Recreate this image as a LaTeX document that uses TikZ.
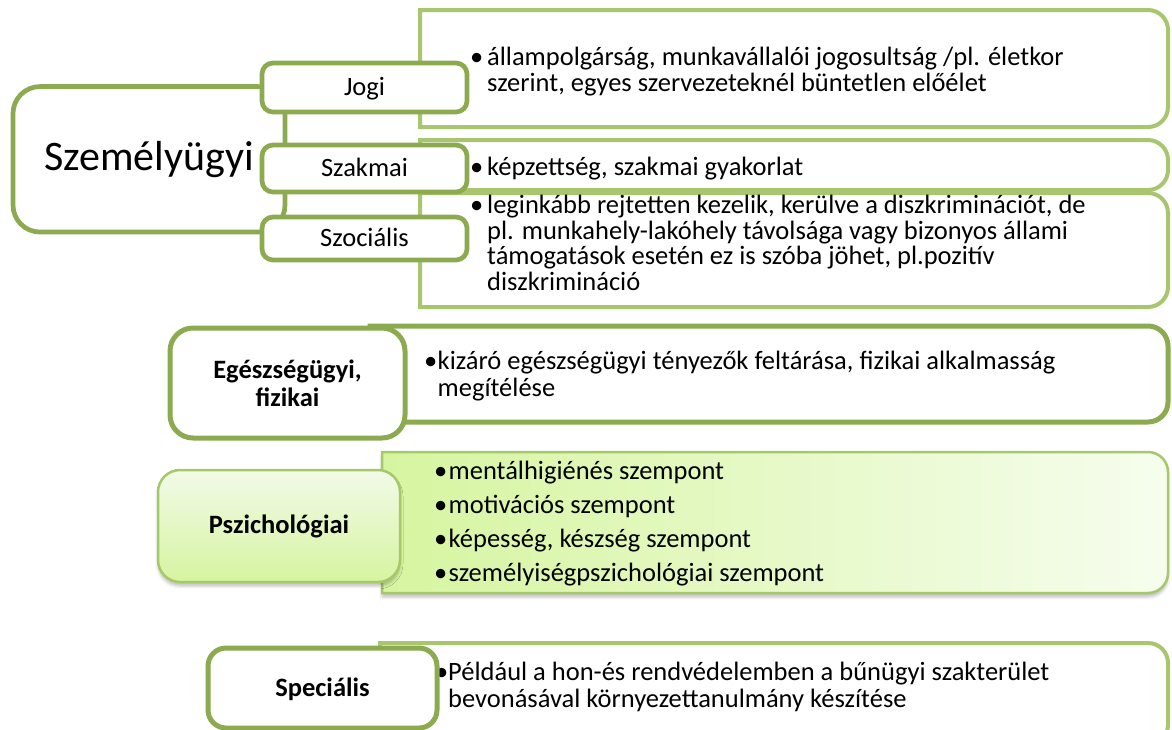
\documentclass[tikz,border=0pt]{standalone}
\usepackage{fontspec}
\setmainfont{Carlito}
\usetikzlibrary{shadows.blur}

\definecolor{olivedark}{RGB}{140,170,80}
\definecolor{olivelight}{RGB}{168,198,110}
\definecolor{psyline}{RGB}{165,200,105}
\definecolor{psytop}{RGB}{242,250,232}
\definecolor{psybot}{RGB}{214,244,160}
\definecolor{psyleft}{RGB}{214,245,160}
\definecolor{psyright}{RGB}{246,253,238}

% body and label fonts
\newcommand\labfont{\fontsize{26.5}{28}\selectfont}
\newcommand\bigfont{\fontsize{42}{44}\selectfont}
% bullet with a fixed-width slot
\newcommand\bul[1][17pt]{\makebox[#1][l]{•}}
% block of lines, first baseline on the node's base
\newcommand\tblock[2]{\parbox[t]{720pt}{\fontsize{26.5}{#1}\selectfont\lineskiplimit=-50pt\raggedright #2}}
% box with square left corners and rounded right corners: options, x1, y1, x2, y2, radius
\newcommand\sidebox[6]{%
  \draw[#1] (#2,#3) -- ({#4-#6},#3) arc[start angle=-90,end angle=0,radius=#6]
    -- (#4,{#5-#6}) arc[start angle=0,end angle=90,radius=#6] -- (#2,#5) -- cycle;}

\begin{document}
\begin{tikzpicture}[x=1pt,y=-1pt,
  lab/.style={draw=olivedark, line width=4.7pt, fill=white, rounded corners=11pt,
    font=\labfont, text height=22.5pt, text depth=6.5pt, inner sep=0pt},
  biglab/.style={draw=olivedark, line width=5pt, fill=white, rounded corners=23pt,
    font=\labfont\bfseries, align=center, inner sep=0pt},
  txt/.style={anchor=base west, inner sep=0pt},
  lightbox/.style={draw=olivelight, line width=4pt, fill=white},
  darkbox/.style={draw=olivedark, line width=5pt, fill=white},
  psyshadow/.style={blur shadow={shadow xshift=0pt, shadow yshift=-4pt,
    shadow blur radius=3pt, shadow opacity=25}}]

\useasboundingbox (0,0) rectangle (1172,729);

% outer frame of the personnel group
\node[draw=olivedark, line width=4.7pt, rounded corners=27pt, minimum width=272pt,
  minimum height=145.5pt, inner sep=0pt, font=\bigfont] (szemely) at (149,159.3)
  {Személyügyi};

% text panels of the personnel group
\sidebox{lightbox}{420}{10}{1168}{127}{20}
\sidebox{lightbox}{420}{140}{1168}{190}{20}
\sidebox{lightbox}{420}{193}{1168}{307}{20}

\node[txt] (tjogi) at (470,65) {\tblock{26}{\bul állampolgárság, munkavállalói jogosultság /pl. életkor\\
  \hspace*{17pt}szerint, egyes szervezeteknél büntetlen előélet}};
\node[txt] (tszakmai) at (470,175) {\tblock{26}{\bul képzettség, szakmai gyakorlat}};
\node[txt] (tszoc) at (470,213.5) {\tblock{25.5}{\bul leginkább rejtetten kezelik, kerülve a diszkriminációt, de\\
  \hspace*{17pt}pl. munkahely-lakóhely távolsága vagy bizonyos állami\\
  \hspace*{17pt}támogatások esetén ez is szóba jöhet, pl.pozitív\\
  \hspace*{17pt}diszkrimináció}};

% sub-labels
\node[lab, minimum width=205pt, minimum height=49pt] (jogi) at (364.5,87.5) {Jogi};
\node[lab, minimum width=205pt, minimum height=47pt] (szakmai) at (364.5,168.5) {Szakmai};
\node[lab, minimum width=205pt, minimum height=43pt] (szoc) at (364.5,238.5) {Szociális};

% health
\sidebox{darkbox}{370}{326}{1168}{422}{20}
\node[txt] (tegesz) at (424,369) {\tblock{27}{\bul[13.5pt]kizáró egészségügyi tényezők feltárása, fizikai alkalmasság\\
  \hspace*{13.5pt}megítélése}};
\node[biglab, minimum width=235pt, minimum height=110pt] (egesz) at (287.5,383)
  {Egészségügyi,\\fizikai};

% psychology
\sidebox{draw=psyline, line width=2.5pt, left color=psyleft, right color=psyright, psyshadow}{382}{452}{1168}{593}{20}
\node[txt] (tpszich) at (434,479) {\tblock{34}{\bul[14.5pt]mentálhigiénés szempont\\
  \bul[14.5pt]motivációs szempont\\
  \bul[14.5pt]képesség, készség szempont\\
  \bul[14.5pt]személyiségpszichológiai szempont}};
\node[draw=psyline, line width=2.5pt, rounded corners=22pt, top color=psytop, bottom color=psybot,
  psyshadow, minimum width=242pt, minimum height=112pt, inner sep=0pt,
  font=\labfont\bfseries] (pszich) at (279,526) {Pszichológiai};

% special
\sidebox{lightbox}{380}{643}{1168}{745}{20}
\node[txt] (tspec) at (435,680) {\tblock{27}{\bul[13pt]Például a hon-és rendvédelemben a bűnügyi szakterület\\
  \hspace*{13pt}bevonásával környezettanulmány készítése}};
\node[lab, line width=5pt, rounded corners=18pt, font=\labfont\bfseries,
  minimum width=229pt, minimum height=80pt] (spec) at (322.5,688) {Speciális};

\end{tikzpicture}
\end{document}
